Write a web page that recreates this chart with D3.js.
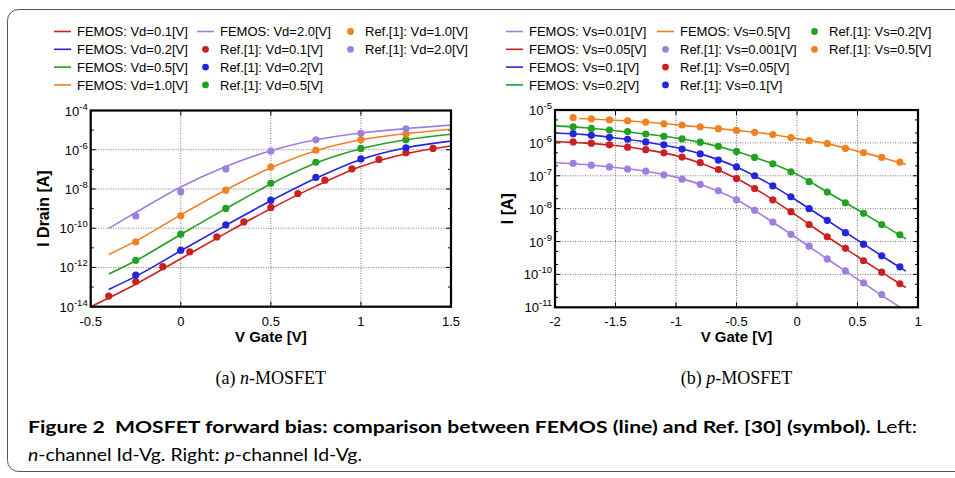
<!DOCTYPE html>
<html>
<head>
<meta charset="utf-8">
<script src="https://cdn.jsdelivr.net/npm/d3@7"></script>
<style>
body { margin: 0; background: #fff; }
svg text { font-family: "Liberation Sans", Arial, sans-serif; fill: #000; }
</style>
</head>
<body>
<div id="chart"></div>
<script>
const w = 955;
const h = 478;

const colors = {red: "#cc2020", blue: "#2424dc", green: "#22a022", orange: "#f08020", purple: "#a07ee0"};

// ---- (a) n-MOSFET, Id vs Vg ----
const nLineVgRed = [-0.5, -0.25, 0, 0.25, 0.5, 0.75, 1.0, 1.25, 1.5];
const nLineVg = [-0.4, -0.25, 0, 0.25, 0.5, 0.75, 1.0, 1.25, 1.5];
const nLineVd01 = [1.0e-14, 1.4e-13, 2.8e-12, 5.6e-11, 1.0e-9, 1.4e-8, 1.4e-7, 6.3e-7, 1.55e-6];
const nLineVd02 = [7.6e-14, 3.5e-13, 7.1e-12, 1.4e-10, 2.5e-9, 3.5e-8, 3.2e-7, 1.26e-6, 2.75e-6];
const nLineVd05 = [4.6e-13, 2.2e-12, 4.8e-11, 1.0e-9, 1.8e-8, 2.1e-7, 1.12e-6, 3.2e-6, 6.2e-6];
const nLineVd10 = [4.6e-12, 2.2e-11, 4.8e-10, 8.9e-9, 1.2e-7, 8.9e-7, 3.2e-6, 6.6e-6, 1.1e-5];
const nLineVd20 = [9.8e-11, 6.3e-10, 1.26e-8, 1.4e-7, 8.9e-7, 3.2e-6, 7.1e-6, 1.2e-5, 1.8e-5];

const nRefVgRed = [-0.4, -0.25, -0.1, 0.05, 0.2, 0.35, 0.5, 0.65, 0.8, 0.95, 1.1, 1.25, 1.4];
const nRefVg = [-0.25, 0, 0.25, 0.5, 0.75, 1.0, 1.25];
const nRefVd01 = [3.5e-14, 1.9e-13, 1.1e-12, 6.3e-12, 3.6e-11, 2.1e-10, 1.15e-9, 5.9e-9, 2.8e-8, 1.07e-7, 3.2e-7, 7.1e-7, 1.17e-6];
const nRefVd02 = [4.1e-13, 7.6e-12, 1.48e-10, 2.7e-9, 3.9e-8, 3.4e-7, 1.26e-6];
const nRefVd05 = [2.3e-12, 5.0e-11, 1.02e-9, 1.95e-8, 2.3e-7, 1.17e-6, 3.2e-6];
const nRefVd10 = [2.0e-11, 4.3e-10, 8.7e-9, 1.32e-7, 9.5e-7, 3.2e-6, 6.3e-6];
const nRefVd20 = [4.2e-10, 7.2e-9, 1.05e-7, 8.5e-7, 3.2e-6, 6.9e-6, 1.17e-5];

const nXTicks = [-0.5, 0, 0.5, 1, 1.5];
const nYTickExp = [-14, -12, -10, -8, -6, -4];

// ---- (b) p-MOSFET, I vs Vg ----
const pLineVg = [-2, -1.75, -1.5, -1.25, -1.0, -0.75, -0.5, -0.25, 0, 0.25, 0.5, 0.75, 0.9];
const pLineVgOrange = [-1.8, -1.5, -1.25, -1.0, -0.75, -0.5, -0.25, 0, 0.25, 0.5, 0.75, 0.9];
const pLineVs001 = [2.5e-7, 2.2e-7, 1.78e-7, 1.38e-7, 9.1e-8, 4.7e-8, 1.86e-8, 5.1e-9, 1.26e-9, 2.95e-10, 7.2e-11, 1.74e-11, 7.9e-12];
const pLineVs005 = [1.1e-6, 9.8e-7, 8.3e-7, 6.2e-7, 4.1e-7, 2.1e-7, 8.3e-8, 2.45e-8, 6.0e-9, 1.4e-9, 3.5e-10, 8.9e-11, 4.0e-11];
const pLineVs01 = [2.0e-6, 1.78e-6, 1.41e-6, 1.07e-6, 7.2e-7, 4.1e-7, 1.86e-7, 6.3e-8, 1.74e-8, 4.4e-9, 1.1e-9, 2.8e-10, 1.26e-10];
const pLineVs02 = [3.3e-6, 2.9e-6, 2.35e-6, 1.86e-6, 1.41e-6, 9.5e-7, 5.5e-7, 2.7e-7, 1.1e-7, 3.2e-8, 9.3e-9, 2.6e-9, 1.2e-9];
const pLineVs05 = [5.5e-6, 4.9e-6, 4.3e-6, 3.55e-6, 2.95e-6, 2.4e-6, 1.9e-6, 1.35e-6, 9.5e-7, 5.6e-7, 3.2e-7, 2.2e-7];

const pRefVg = [-1.85, -1.7, -1.55, -1.4, -1.25, -1.1, -0.95, -0.8, -0.65, -0.5, -0.35, -0.2, -0.05, 0.1, 0.25, 0.4, 0.55, 0.7, 0.85];
const pRefVs0001 = [2.4e-7, 2.1e-7, 1.86e-7, 1.6e-7, 1.38e-7, 1.07e-7, 7.9e-8, 5.5e-8, 3.5e-8, 1.86e-8, 8.9e-9, 3.9e-9, 1.66e-9, 7.2e-10, 2.95e-10, 1.29e-10, 5.5e-11, 2.45e-11];
const pRefVs005 = [1.07e-6, 9.8e-7, 8.7e-7, 7.4e-7, 6.2e-7, 5.0e-7, 3.7e-7, 2.5e-7, 1.55e-7, 8.3e-8, 4.1e-8, 1.86e-8, 8.1e-9, 3.3e-9, 1.4e-9, 6.2e-10, 2.6e-10, 1.17e-10, 5.2e-11];
const pRefVs01 = [1.9e-6, 1.7e-6, 1.48e-6, 1.29e-6, 1.07e-6, 8.7e-7, 6.5e-7, 4.6e-7, 3.0e-7, 1.86e-7, 1.0e-7, 4.9e-8, 2.3e-8, 1.0e-8, 4.4e-9, 1.86e-9, 8.3e-10, 3.7e-10, 1.7e-10];
const pRefVs02 = [3.1e-6, 2.75e-6, 2.45e-6, 2.2e-6, 1.86e-6, 1.58e-6, 1.32e-6, 1.05e-6, 7.9e-7, 5.5e-7, 3.6e-7, 2.3e-7, 1.32e-7, 6.6e-8, 3.2e-8, 1.5e-8, 7.2e-9, 3.3e-9, 1.6e-9];
const pRefVs05 = [5.9e-6, 5.4e-6, 5.0e-6, 4.7e-6, 4.3e-6, 3.8e-6, 3.5e-6, 3.1e-6, 2.7e-6, 2.4e-6, 2.1e-6, 1.8e-6, 1.45e-6, 1.17e-6, 9.5e-7, 6.8e-7, 5.1e-7, 3.6e-7, 2.6e-7];

const pXTicks = [-2, -1.5, -1, -0.5, 0, 0.5, 1];
const pYTickExp = [-11, -10, -9, -8, -7, -6, -5];

let svg = d3.select("#chart").append("svg")
    .attr("width", w).attr("height", h)
    .style("background-color", "#ffffff");

// figure border (right side runs off the page)
svg.append("rect")
    .attr("x", 7.5).attr("y", 9.5).attr("width", 970).attr("height", 462)
    .attr("rx", 11).attr("fill", "none").attr("stroke", "#555").attr("stroke-width", 1);

const zip = (xs, ys) => xs.map((v, i) => [v, ys[i]]).filter(d => d[1] !== undefined);

const drawPanel = (p) => {
    let g = svg.append("g");
    let x = d3.scaleLinear().domain(p.xDomain).range([p.left, p.right]);
    let y = d3.scaleLog().domain(p.yDomain).range([p.bottom, p.top]);

    g.append("clipPath").attr("id", p.id + "clip")
        .append("rect").attr("x", p.left).attr("y", p.top)
        .attr("width", p.right - p.left).attr("height", p.bottom - p.top);

    // grid
    g.selectAll(".vg").data(p.xTicks.slice(1, -1)).join("line")
        .attr("x1", d => x(d)).attr("x2", d => x(d))
        .attr("y1", p.top).attr("y2", p.bottom)
        .attr("stroke", "#777").attr("stroke-width", 1).attr("stroke-dasharray", "1,1.5");
    g.selectAll(".hg").data(p.yTickExp.slice(1, -1)).join("line")
        .attr("x1", p.left).attr("x2", p.right)
        .attr("y1", d => y(Math.pow(10, d))).attr("y2", d => y(Math.pow(10, d)))
        .attr("stroke", "#777").attr("stroke-width", 1).attr("stroke-dasharray", "1,1.5");

    // ticks (mirrored)
    const ticks = [];
    p.xTicks.forEach(v => {
        ticks.push([x(v), p.bottom, x(v), p.bottom - 5]);
        ticks.push([x(v), p.top, x(v), p.top + 5]);
    });
    p.yTickExp.forEach(e => {
        let yy = y(Math.pow(10, e));
        ticks.push([p.left, yy, p.left + 5, yy]);
        ticks.push([p.right, yy, p.right - 5, yy]);
    });
    p.yMinor.forEach(v => {
        let yy = y(v);
        ticks.push([p.left, yy, p.left + 3, yy]);
        ticks.push([p.right, yy, p.right - 3, yy]);
    });
    g.selectAll(".tk").data(ticks).join("line")
        .attr("x1", d => d[0]).attr("y1", d => d[1]).attr("x2", d => d[2]).attr("y2", d => d[3])
        .attr("stroke", "#000").attr("stroke-width", 1);

    // tick labels
    g.selectAll(".xl").data(p.xTicks).join("text")
        .attr("x", d => x(d)).attr("y", p.bottom + 19)
        .attr("text-anchor", "middle").attr("font-size", 13)
        .text(d => d);
    let yl = g.selectAll(".yl").data(p.yTickExp).join("text")
        .attr("x", p.left - 3).attr("y", d => y(Math.pow(10, d)) + 5)
        .attr("text-anchor", "end").attr("font-size", 13);
    yl.append("tspan").text("10");
    yl.append("tspan").attr("dy", -6).attr("font-size", 9.5).text(d => d);

    // FEMOS lines
    let line = d3.line().x(d => x(d[0])).y(d => y(d[1])).curve(d3.curveMonotoneX);
    g.append("g").attr("clip-path", "url(#" + p.id + "clip)")
        .selectAll("path").data(p.lines).join("path")
        .attr("d", d => line(zip(d.vg, d.i)))
        .attr("fill", "none").attr("stroke", d => d.color).attr("stroke-width", 1.6);

    // Ref. [1] symbols
    p.refs.forEach(r => {
        g.append("g").selectAll("circle").data(zip(r.vg, r.i)).join("circle")
            .attr("cx", d => x(d[0])).attr("cy", d => y(d[1])).attr("r", 3.6)
            .attr("fill", r.color);
    });

    // frame
    g.append("rect").attr("x", p.left).attr("y", p.top)
        .attr("width", p.right - p.left).attr("height", p.bottom - p.top)
        .attr("fill", "none").attr("stroke", "#000").attr("stroke-width", 2.2);

    // axis titles
    g.append("text").attr("x", (p.left + p.right) / 2).attr("y", 342)
        .attr("text-anchor", "middle").attr("font-size", 15).attr("font-weight", "bold")
        .text("V Gate [V]");
    g.append("text").attr("transform", "translate(" + p.yTitleX + "," + (p.top + p.bottom) / 2 + ") rotate(-90)")
        .attr("text-anchor", "middle").attr("font-size", 16).attr("font-weight", "bold")
        .text(p.yTitle);

    // legend, column-major, 4 rows
    const rowY = [31.5, 49.3, 67.1, 84.9];
    p.legend.forEach((item, i) => {
        let cx = p.legendX[Math.floor(i / 4)];
        let cy = rowY[i % 4];
        if (item.type === "line") {
            g.append("line").attr("x1", cx).attr("x2", cx + 17).attr("y1", cy).attr("y2", cy)
                .attr("stroke", item.color).attr("stroke-width", 1.6);
        } else {
            g.append("circle").attr("cx", cx + 8.5).attr("cy", cy).attr("r", 3.4).attr("fill", item.color);
        }
        g.append("text").attr("x", cx + 23).attr("y", cy + 4.6).attr("font-size", 13).text(item.label);
    });

    // sub caption
    let cap = g.append("text").attr("x", (p.left + p.right) / 2).attr("y", 384)
        .attr("text-anchor", "middle").attr("font-size", 18)
        .style("font-family", "'Liberation Serif', 'DejaVu Serif', serif");
    cap.append("tspan").text(p.caption[0]);
    cap.append("tspan").attr("font-style", "italic").text(p.caption[1]);
    cap.append("tspan").text(p.caption[2]);
};

drawPanel({
    id: "n", xDomain: [-0.5, 1.5], yDomain: [1e-14, 1e-4],
    left: 90.7, right: 451, top: 110.5, bottom: 306.7,
    xTicks: nXTicks, yTickExp: nYTickExp,
    yMinor: [1e-13, 1e-11, 1e-9, 1e-7, 1e-5],
    yTitle: "I Drain [A]", yTitleX: 49,
    lines: [
        {vg: nLineVgRed, i: nLineVd01, color: colors.red},
        {vg: nLineVg, i: nLineVd02, color: colors.blue},
        {vg: nLineVg, i: nLineVd05, color: colors.green},
        {vg: nLineVg, i: nLineVd10, color: colors.orange},
        {vg: nLineVg, i: nLineVd20, color: colors.purple}
    ],
    refs: [
        {vg: nRefVgRed, i: nRefVd01, color: colors.red},
        {vg: nRefVg, i: nRefVd02, color: colors.blue},
        {vg: nRefVg, i: nRefVd05, color: colors.green},
        {vg: nRefVg, i: nRefVd10, color: colors.orange},
        {vg: nRefVg, i: nRefVd20, color: colors.purple}
    ],
    legendX: [54, 197, 342],
    legend: [
        {type: "line", color: colors.red, label: "FEMOS: Vd=0.1[V]"},
        {type: "line", color: colors.blue, label: "FEMOS: Vd=0.2[V]"},
        {type: "line", color: colors.green, label: "FEMOS: Vd=0.5[V]"},
        {type: "line", color: colors.orange, label: "FEMOS: Vd=1.0[V]"},
        {type: "line", color: colors.purple, label: "FEMOS: Vd=2.0[V]"},
        {type: "dot", color: colors.red, label: "Ref.[1]: Vd=0.1[V]"},
        {type: "dot", color: colors.blue, label: "Ref.[1]: Vd=0.2[V]"},
        {type: "dot", color: colors.green, label: "Ref.[1]: Vd=0.5[V]"},
        {type: "dot", color: colors.orange, label: "Ref.[1]: Vd=1.0[V]"},
        {type: "dot", color: colors.purple, label: "Ref.[1]: Vd=2.0[V]"}
    ],
    caption: ["(a) ", "n", "-MOSFET"]
});

// minor log ticks at 2x and 5x in each decade of the p panel
const pMinor = [];
pYTickExp.slice(0, -1).forEach(e => { pMinor.push(2 * Math.pow(10, e)); pMinor.push(5 * Math.pow(10, e)); });

drawPanel({
    id: "p", xDomain: [-2, 1], yDomain: [1e-11, 1e-5],
    left: 555, right: 918, top: 110, bottom: 307.3,
    xTicks: pXTicks, yTickExp: pYTickExp, yMinor: pMinor,
    yTitle: "I [A]", yTitleX: 513,
    lines: [
        {vg: pLineVg, i: pLineVs001, color: colors.purple},
        {vg: pLineVg, i: pLineVs005, color: colors.red},
        {vg: pLineVg, i: pLineVs01, color: colors.blue},
        {vg: pLineVg, i: pLineVs02, color: colors.green},
        {vg: pLineVgOrange, i: pLineVs05, color: colors.orange}
    ],
    refs: [
        {vg: pRefVg, i: pRefVs0001, color: colors.purple},
        {vg: pRefVg, i: pRefVs005, color: colors.red},
        {vg: pRefVg, i: pRefVs01, color: colors.blue},
        {vg: pRefVg, i: pRefVs02, color: colors.green},
        {vg: pRefVg, i: pRefVs05, color: colors.orange}
    ],
    legendX: [506, 657, 806],
    legend: [
        {type: "line", color: colors.purple, label: "FEMOS: Vs=0.01[V]"},
        {type: "line", color: colors.red, label: "FEMOS: Vs=0.05[V]"},
        {type: "line", color: colors.blue, label: "FEMOS: Vs=0.1[V]"},
        {type: "line", color: colors.green, label: "FEMOS: Vs=0.2[V]"},
        {type: "line", color: colors.orange, label: "FEMOS: Vs=0.5[V]"},
        {type: "dot", color: colors.purple, label: "Ref.[1]: Vs=0.001[V]"},
        {type: "dot", color: colors.red, label: "Ref.[1]: Vs=0.05[V]"},
        {type: "dot", color: colors.blue, label: "Ref.[1]: Vs=0.1[V]"},
        {type: "dot", color: colors.green, label: "Ref.[1]: Vs=0.2[V]"},
        {type: "dot", color: colors.orange, label: "Ref.[1]: Vs=0.5[V]"}
    ],
    caption: ["(b) ", "p", "-MOSFET"]
});

// figure caption
let c1 = svg.append("text").attr("x", 28).attr("y", 433).attr("font-size", 17.5)
    .attr("textLength", 889).attr("lengthAdjust", "spacingAndGlyphs")
    .style("font-family", "Lato, 'Noto Sans', sans-serif");
c1.append("tspan").attr("font-weight", "bold")
    .text("Figure 2\u00a0\u00a0MOSFET forward bias: comparison between FEMOS (line) and Ref. [30] (symbol).");
c1.append("tspan").text(" Left:");

let c2 = svg.append("text").attr("x", 28).attr("y", 461).attr("font-size", 17.5)
    .attr("textLength", 334).attr("lengthAdjust", "spacingAndGlyphs")
    .style("font-family", "Lato, 'Noto Sans', sans-serif");
c2.append("tspan").attr("font-style", "italic").text("n");
c2.append("tspan").text("-channel Id-Vg. Right: ");
c2.append("tspan").attr("font-style", "italic").text("p");
c2.append("tspan").text("-channel Id-Vg.");
</script>
</body>
</html>
